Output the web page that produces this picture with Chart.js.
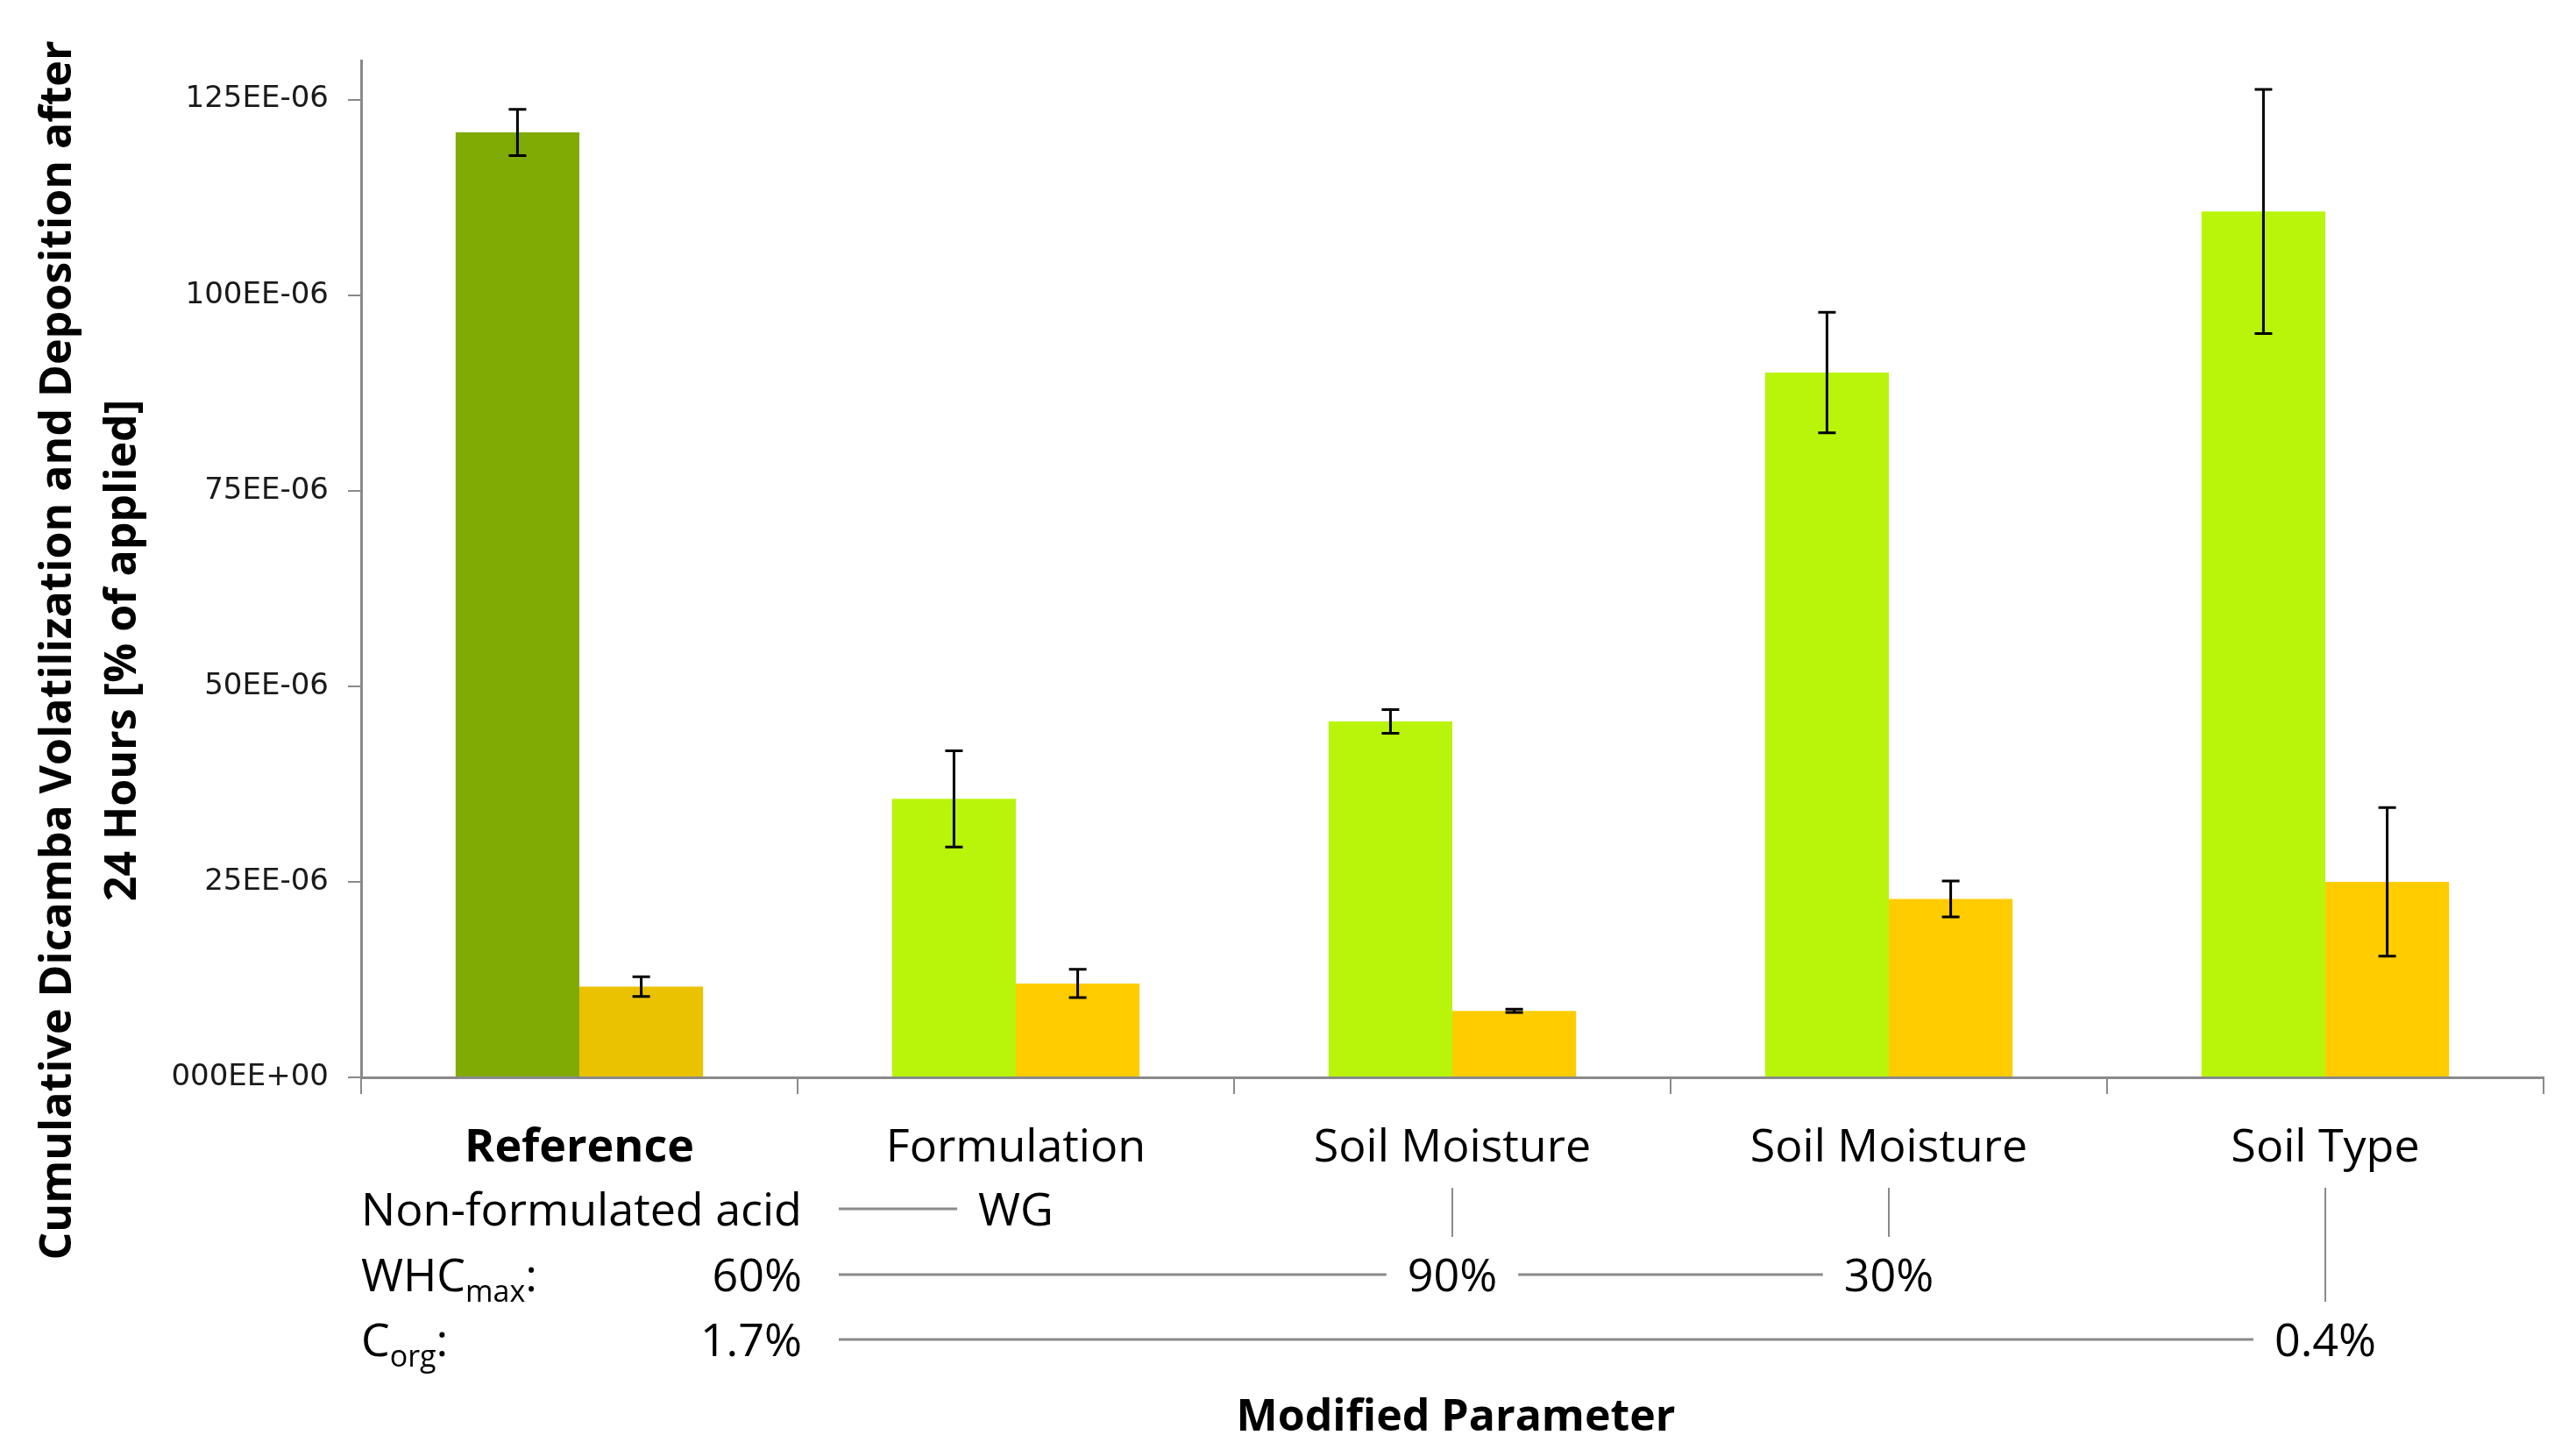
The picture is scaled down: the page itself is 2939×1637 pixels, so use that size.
<!DOCTYPE html>
<html>
<head>
<meta charset="utf-8">
<script src="https://cdn.jsdelivr.net/npm/chart.js@4.4.1/dist/chart.umd.min.js"></script>
<style>
  html, body { margin: 0; padding: 0; background: #ffffff; }
  canvas { display: block; }
</style>
</head>
<body>
<canvas id="chart" width="2939" height="1637"></canvas>
<script>
// Categories (modified parameter) and measured values (x 1E-06 % of applied)
const categories = ['Reference', 'Formulation', 'Soil Moisture', 'Soil Moisture', 'Soil Type'];
const volatilization = [120.8, 35.6, 45.5, 90.1, 110.7];
const volatilizationErr = [2.95, 6.15, 1.5, 7.7, 15.6];
const deposition = [11.6, 12.0, 8.5, 22.8, 25.0];
const depositionErr = [1.25, 1.8, 0.2, 2.3, 9.5];

// Y axis ticks
const tickValues = [0, 25, 50, 75, 100, 125];
const tickLabels = ['000EE+00', '25EE-06', '50EE-06', '75EE-06', '100EE-06', '125EE-06'];

// Parameter table below the axis (one entry per category)
const rowTitles = ['Non-formulated acid', 'WHC', 'C'];
const rowSubscripts = ['', 'max', 'org'];
const formulationRow = [null, 'WG', null, null, null];
const whcRow = ['60%', null, '90%', '30%', null];
const corgRow = ['1.7%', null, null, null, '0.4%'];

const volColors = ['#80AA04', '#B9F50A', '#B9F50A', '#B9F50A', '#B9F50A'];
const depColors = ['#EBC200', '#FFCC00', '#FFCC00', '#FFCC00', '#FFCC00'];

const AXIS_GRAY = '#8a8a8a';
const FONT = "'Open Sans', 'Liberation Sans', sans-serif";

const errorBars = {
  id: 'errorBars',
  afterDatasetsDraw(chart) {
    const ctx = chart.ctx;
    const y = chart.scales.y;
    const errs = [volatilizationErr, depositionErr];
    chart.data.datasets.forEach((ds, di) => {
      const meta = chart.getDatasetMeta(di);
      meta.data.forEach((bar, i) => {
        const v = ds.data[i], e = errs[di][i];
        const yt = y.getPixelForValue(v + e);
        const yb = y.getPixelForValue(v - e);
        ctx.save();
        ctx.strokeStyle = '#000';
        ctx.lineWidth = 3;
        ctx.beginPath();
        ctx.moveTo(bar.x, yt); ctx.lineTo(bar.x, yb);
        ctx.moveTo(bar.x - 10, yt); ctx.lineTo(bar.x + 10, yt);
        ctx.moveTo(bar.x - 10, yb); ctx.lineTo(bar.x + 10, yb);
        ctx.stroke();
        ctx.restore();
      });
    });
  }
};

const extraText = {
  id: 'extraText',
  afterDraw(chart) {
    const ctx = chart.ctx;
    const x = chart.scales.x;
    const area = chart.chartArea;
    ctx.save();
    ctx.fillStyle = '#000';

    // Y axis title, two rotated lines
    ctx.save();
    ctx.font = `bold 50px ${FONT}`;
    ctx.textAlign = 'center';
    ctx.textBaseline = 'alphabetic';
    const titleLines = ['Cumulative Dicamba Volatilization and Deposition after', '24 Hours [% of applied]'];
    const baseX = [81, 155];
    titleLines.forEach((t, k) => {
      ctx.save();
      ctx.translate(baseX[k], 742);
      ctx.rotate(-Math.PI / 2);
      ctx.fillText(t, 0, 0);
      ctx.restore();
    });
    ctx.restore();

    // X axis title
    ctx.font = `bold 50px ${FONT}`;
    ctx.textAlign = 'center';
    ctx.textBaseline = 'alphabetic';
    ctx.fillText('Modified Parameter', (area.left + area.right) / 2 + 4, 1632);

    // Parameter table
    const rows = [formulationRow, whcRow, corgRow];
    const baselines = [1398, 1473, 1547];
    const mainFont = `52px ${FONT}`;
    const subFont = `34px ${FONT}`;
    const leftEdge = area.left;
    const valueRight = 915;
    const lineStart = 957;
    const gap = 24;

    ctx.strokeStyle = AXIS_GRAY;
    ctx.lineWidth = 3;

    rows.forEach((row, r) => {
      const b = baselines[r];
      // row title with optional subscript
      ctx.font = mainFont;
      ctx.textAlign = 'left';
      let cx = leftEdge;
      ctx.fillText(rowTitles[r], cx, b);
      cx += ctx.measureText(rowTitles[r]).width;
      if (rowSubscripts[r]) {
        ctx.font = subFont;
        ctx.fillText(rowSubscripts[r], cx, b + 12);
        cx += ctx.measureText(rowSubscripts[r]).width;
        ctx.font = mainFont;
        ctx.fillText(':', cx, b);
      }
      ctx.font = mainFont;
      // values, with connecting lines between them
      let prevRight = null;
      row.forEach((val, i) => {
        if (val === null) return;
        const w = ctx.measureText(val).width;
        let left, right;
        if (i === 0) {
          ctx.textAlign = 'right';
          ctx.fillText(val, valueRight, b);
          left = valueRight - w; right = valueRight;
        } else {
          const c = x.getPixelForValue(i);
          ctx.textAlign = 'center';
          ctx.fillText(val, c, b);
          left = c - w / 2; right = c + w / 2;
          const start = prevRight === null ? lineStart : prevRight + gap;
          ctx.beginPath();
          ctx.moveTo(start, b - 19);
          ctx.lineTo(left - gap, b - 19);
          ctx.stroke();
        }
        prevRight = (i === 0) ? (lineStart - gap) : right;
      });
    });

    // vertical connectors from a category label down to the row it changes
    ctx.lineWidth = 2;
    for (let i = 1; i < categories.length; i++) {
      const r = rows.findIndex(row => row[i] !== null);
      if (r <= 0) continue;
      const c = x.getPixelForValue(i);
      ctx.beginPath();
      ctx.moveTo(c, 1355);
      ctx.lineTo(c, baselines[r] - 62);
      ctx.stroke();
    }
    ctx.restore();
  }
};

new Chart(document.getElementById('chart'), {
  type: 'bar',
  data: {
    labels: categories,
    datasets: [
      { label: 'Volatilization', data: volatilization, backgroundColor: volColors, borderWidth: 0 },
      { label: 'Deposition', data: deposition, backgroundColor: depColors, borderWidth: 0 }
    ]
  },
  options: {
    responsive: false,
    animation: false,
    devicePixelRatio: 1,
    layout: { padding: { top: 69, right: 37, left: 0, bottom: 0 } },
    plugins: { legend: { display: false }, tooltip: { enabled: false } },
    datasets: { bar: { categoryPercentage: 0.567, barPercentage: 1.0 } },
    scales: {
      x: {
        grid: { display: true, drawOnChartArea: false, drawTicks: true, tickLength: 19, tickColor: AXIS_GRAY, lineWidth: 2, offset: true },
        border: { display: true, color: AXIS_GRAY, width: 3 },
        ticks: {
          color: '#000',
          padding: 31,
          maxRotation: 0,
          autoSkip: false,
          font: (ctx) => ({ family: FONT, size: 52, weight: ctx.index === 0 ? 'bold' : 'normal' })
        },
        afterFit(scale) { scale.height = 1637 - 1229; }
      },
      y: {
        min: 0,
        max: 130,
        afterBuildTicks(scale) { scale.ticks = tickValues.map(v => ({ value: v })); },
        grid: { display: true, drawOnChartArea: false, drawTicks: true, tickLength: 15, tickColor: AXIS_GRAY, lineWidth: 2 },
        border: { display: true, color: AXIS_GRAY, width: 3 },
        ticks: {
          color: '#1a1a1a',
          padding: 22,
          font: { family: "'DejaVu Sans', sans-serif", size: 34 },
          callback: (value, index) => tickLabels[index]
        },
        afterFit(scale) { scale.width = 412; }
      }
    }
  },
  plugins: [errorBars, extraText]
});
</script>
</body>
</html>
